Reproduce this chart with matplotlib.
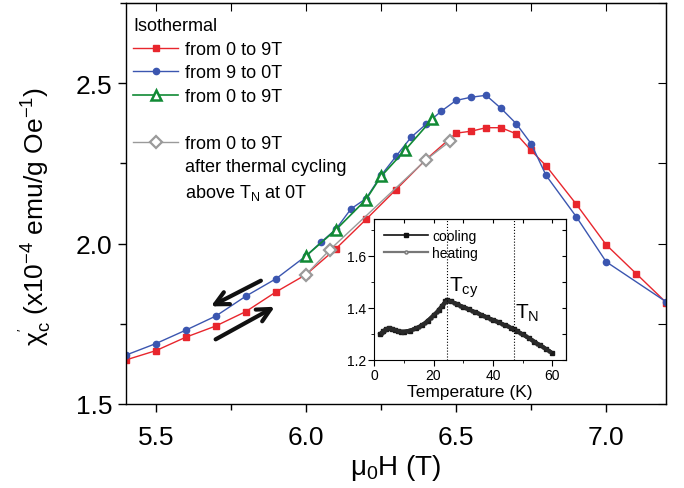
import numpy as np
import matplotlib
matplotlib.use("Agg")
import matplotlib.pyplot as plt
from matplotlib.lines import Line2D
from matplotlib.ticker import MultipleLocator

plt.rcParams['font.family'] = ['Liberation Sans', 'DejaVu Sans']
plt.rcParams['mathtext.default'] = 'regular'

# isothermal, 0 -> 9 T (red)
h_up = [5.4, 5.5, 5.6, 5.7, 5.8, 5.9, 6.0, 6.1, 6.2, 6.3, 6.4, 6.5, 6.55, 6.6, 6.65,
        6.7, 6.75, 6.8, 6.9, 7.0, 7.1, 7.2]
chi_up = [1.637, 1.666, 1.708, 1.743, 1.788, 1.849, 1.903, 1.984, 2.075, 2.168, 2.262,
          2.344, 2.350, 2.361, 2.361, 2.342, 2.290, 2.242, 2.123, 1.996, 1.906, 1.816]

# isothermal, 9 -> 0 T (blue)
h_down = [5.4, 5.5, 5.6, 5.7, 5.8, 5.9, 6.0, 6.05, 6.1, 6.15, 6.2, 6.25, 6.3, 6.35, 6.4,
          6.45, 6.5, 6.55, 6.6, 6.65, 6.7, 6.75, 6.8, 6.9, 7.0, 7.2]
chi_down = [1.652, 1.688, 1.730, 1.774, 1.836, 1.890, 1.961, 2.004, 2.045, 2.108, 2.140,
            2.212, 2.272, 2.331, 2.372, 2.412, 2.446, 2.456, 2.462, 2.421, 2.374, 2.311,
            2.212, 2.084, 1.943, 1.818]

# isothermal, 0 -> 9 T, second run (green)
h_up2 = [6.0, 6.1, 6.2, 6.25, 6.33, 6.42]
chi_up2 = [1.961, 2.043, 2.137, 2.209, 2.291, 2.387]

# after thermal cycling above TN (gray)
h_cyc = [6.0, 6.08, 6.4, 6.48]
chi_cyc = [1.903, 1.981, 2.261, 2.319]

# inset: chi vs temperature
t_cool = [2, 3, 4, 5, 6, 7, 8, 9, 10, 12, 14, 16, 18, 20, 22, 23, 24, 24.5, 26, 28, 30,
          32, 34, 36, 38, 40, 42, 44, 46, 47, 48, 50, 52, 54, 56, 58, 60]
chi_cool = [1.300, 1.310, 1.318, 1.323, 1.320, 1.315, 1.311, 1.309, 1.309, 1.313, 1.321,
            1.333, 1.350, 1.372, 1.393, 1.407, 1.425, 1.432, 1.425, 1.415, 1.404, 1.394,
            1.384, 1.374, 1.364, 1.354, 1.344, 1.334, 1.324, 1.319, 1.313, 1.298, 1.284,
            1.270, 1.256, 1.241, 1.227]
t_heat = [2.5, 3.5, 4.5, 5.5, 6.5, 8, 9.5, 11, 13, 15, 17, 19, 21, 23.5, 25, 27, 29, 31,
          33, 35, 37, 39, 41, 43, 45, 47.5, 49, 51, 53, 55, 57, 59]
chi_heat = [1.305, 1.315, 1.321, 1.322, 1.318, 1.312, 1.309, 1.310, 1.317, 1.327, 1.341,
            1.361, 1.383, 1.418, 1.428, 1.420, 1.409, 1.399, 1.389, 1.379, 1.369, 1.359,
            1.349, 1.339, 1.329, 1.316, 1.305, 1.291, 1.277, 1.263, 1.249, 1.234]
t_cy, t_n = 24.5, 47.0

red = '#e8262d'
blue = '#3b56b0'
green = '#118a35'
gray = '#9a9a9a'

fig = plt.figure(figsize=(6.84, 4.89), dpi=100)
ax = fig.add_axes([0.184, 0.172, 0.79, 0.820])

ax.plot(h_up, chi_up, '-s', color=red, lw=1.0, ms=4.3, label='from 0 to 9T')
ax.plot(h_down, chi_down, '-o', color=blue, lw=1.0, ms=4.5, label='from 9 to 0T')
ax.plot(h_up2, chi_up2, '-^', color=green, lw=1.2, ms=7.5, mfc='white', mew=1.8,
        label='from 0 to 9T')
ax.plot(h_cyc, chi_cyc, '-D', color=gray, lw=1.0, ms=6, mfc='white', mew=1.6,
        label='from 0 to 9T')

# arrows showing sweep direction
ax.annotate('', xy=(5.675, 1.800), xytext=(5.858, 1.888),
            arrowprops=dict(arrowstyle='->', color='#111111', lw=3.0, mutation_scale=24))
ax.annotate('', xy=(5.904, 1.807), xytext=(5.691, 1.697),
            arrowprops=dict(arrowstyle='->', color='#111111', lw=3.0, mutation_scale=24))

ax.set_xlim(5.4, 7.2)
ax.set_ylim(1.5, 2.75)
ax.xaxis.set_major_locator(MultipleLocator(0.5))
ax.xaxis.set_minor_locator(MultipleLocator(0.25))
ax.yaxis.set_major_locator(MultipleLocator(0.5))
ax.yaxis.set_minor_locator(MultipleLocator(0.25))
ax.tick_params(which='both', direction='out', labelsize=19, width=1.0)
ax.tick_params(which='major', length=6)
ax.tick_params(which='minor', length=4)
ax.tick_params(axis='x', pad=9)
ax.xaxis.set_major_formatter(matplotlib.ticker.FormatStrFormatter('%.1f'))
ax.yaxis.set_major_formatter(matplotlib.ticker.FormatStrFormatter('%.1f'))
for s in ax.spines.values():
    s.set_linewidth(1.0)
# mirrored ticks on top / right, pointing inward
sec_x = ax.secondary_xaxis('top')
sec_x.xaxis.set_major_locator(MultipleLocator(0.25))
sec_x.tick_params(direction='in', length=6, labeltop=False)
sec_y = ax.secondary_yaxis('right')
sec_y.yaxis.set_major_locator(MultipleLocator(0.25))
sec_y.tick_params(direction='in', length=6, labelright=False)

ax.set_xlabel('μ$_0$H (T)', fontsize=20, labelpad=2)
ax.set_ylabel("χ$^{'}_{c}$ (x10$^{-4}$ emu/g Oe$^{-1}$)", fontsize=19, labelpad=10)
ax.yaxis.set_label_coords(-0.135, 0.47)

blank = Line2D([], [], linestyle='none')
hs, ls = ax.get_legend_handles_labels()
handles = hs[:3] + [blank, hs[3], blank, blank]
labels = ls[:3] + ['', ls[3], 'after thermal cycling', 'above T$_N$ at 0T']
leg = ax.legend(handles, labels, loc='upper left', bbox_to_anchor=(0.0, 0.982),
                title='Isothermal', frameon=False, fontsize=13, title_fontsize=13,
                handlelength=2.5, handletextpad=0.4, labelspacing=0.36,
                borderaxespad=0.0, borderpad=0.4, alignment='left')

# inset
axi = fig.add_axes([0.547, 0.262, 0.280, 0.288])
axi.plot(t_cool, chi_cool, '-s', color='#1a1a1a', lw=2.6, ms=2.6, label='cooling')
axi.plot(t_heat, chi_heat, '-o', color='#2a2a2a', lw=2.6, ms=2.2, label='heating')
axi.axvline(t_cy, color='black', ls=':', lw=0.8)
axi.axvline(t_n, color='black', ls=':', lw=0.8)
axi.text(25.3, 1.465, 'T$_{cy}$', fontsize=15)
axi.text(47.6, 1.362, 'T$_N$', fontsize=15)
axi.set_xlim(0, 64.5)
axi.set_ylim(1.2, 1.742)
axi.xaxis.set_major_locator(MultipleLocator(20))
axi.xaxis.set_minor_locator(MultipleLocator(10))
axi.yaxis.set_major_locator(MultipleLocator(0.2))
axi.yaxis.set_minor_locator(MultipleLocator(0.1))
axi.yaxis.set_major_formatter(matplotlib.ticker.FormatStrFormatter('%.1f'))
axi.tick_params(which='both', direction='out', labelsize=10, pad=2)
axi.tick_params(which='major', length=4)
axi.tick_params(which='minor', length=2.5)
isx = axi.secondary_xaxis('top')
isx.xaxis.set_major_locator(MultipleLocator(10))
isx.tick_params(direction='in', length=3, labeltop=False)
isy = axi.secondary_yaxis('right')
isy.yaxis.set_major_locator(MultipleLocator(0.1))
isy.tick_params(direction='in', length=3, labelright=False)
axi.set_xlabel('Temperature (K)', fontsize=12.5, labelpad=1)
leg_handles = [Line2D([], [], color='#111111', lw=1.2, marker='s', ms=2.5),
               Line2D([], [], color='#777777', lw=1.6, marker='o', ms=2.2,
                      mfc='#dddddd')]
axi.legend(leg_handles, ['cooling', 'heating'], loc='upper left', frameon=False,
           fontsize=10, handlelength=3.2, handletextpad=0.3, labelspacing=0.25,
           borderaxespad=0.3)

fig.savefig('out.png', dpi=100)
